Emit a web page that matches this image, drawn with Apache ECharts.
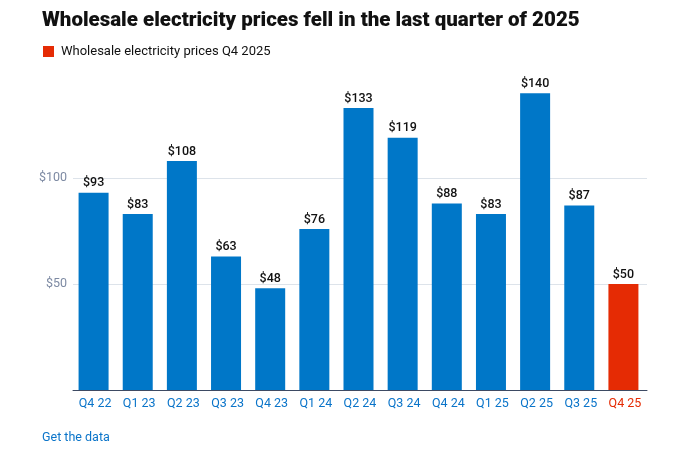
<!DOCTYPE html>
<html>
<head>
<meta charset="utf-8">
<script src="https://cdn.jsdelivr.net/npm/echarts@6/dist/echarts.min.js"></script>
<style>html,body{margin:0;padding:0;background:#fff}#c{width:690px;height:463px}</style>
</head>
<body>
<div id="c"></div>
<script>
const categories = ['Q4 22','Q1 23','Q2 23','Q3 23','Q4 23','Q1 24','Q2 24','Q3 24','Q4 24','Q1 25','Q2 25','Q3 25','Q4 25'];
const prices = [93, 83, 108, 63, 48, 76, 133, 119, 88, 83, 140, 87, 50];
const highlightIndex = 12;
const yTicks = [0, 50, 100, 150];

const BLUE = '#0077c8', RED = '#e52b04';
const chart = echarts.init(document.getElementById('c'));
chart.setOption({
  animation: false,
  textStyle: { fontFamily: 'Roboto' },
  title: {
    text: 'Wholesale electricity prices fell in the last quarter of 2025',
    left: 37, top: 5,
    textStyle: { fontFamily: 'Roboto', fontWeight: 900, fontSize: 20.5, color: '#111' }
  },
  legend: {
    left: 38, top: 40, icon: 'rect', itemWidth: 11, itemHeight: 11, itemGap: 5,
    selectedMode: false,
    textStyle: { fontSize: 13, color: '#111', padding: [0,0,0,2] },
    data: [{ name: 'Wholesale electricity prices Q4 2025', itemStyle: { color: RED } }]
  },
  grid: { left: 73, right: 43, top: 72, bottom: 73 },
  xAxis: {
    type: 'category', data: categories,
    axisTick: { show: false },
    axisLine: { lineStyle: { color: '#3d4a63', width: 1 } },
    axisLabel: {
      margin: 7, fontSize: 12.5,
      color: (v, i) => i === highlightIndex ? RED : '#0a74c9'
    }
  },
  yAxis: {
    type: 'value', min: yTicks[0], max: yTicks[3], interval: 50,
    axisLine: { show: false }, axisTick: { show: false },
    axisLabel: {
      fontSize: 12.5, color: '#7d8aa3', margin: 6,
      formatter: v => (v === 0 || v === 150) ? '' : '$' + v
    },
    splitLine: { lineStyle: { color: ['#ffffff', '#dde3ea', '#dde3ea', 'rgba(0,0,0,0)'] } }
  },
  series: [
    {
      name: 'Wholesale electricity prices',
      type: 'bar', barWidth: 30,
      data: prices.map((v, i) => ({ value: v, itemStyle: { color: i === highlightIndex ? RED : BLUE } })),
      label: { show: true, position: 'top', distance: 3, fontSize: 12.5, fontWeight: 500, color: '#111', formatter: p => '$' + p.value }
    },
    { name: 'Wholesale electricity prices Q4 2025', type: 'bar', data: [], itemStyle: { color: RED } }
  ],
  graphic: [{
    type: 'text', left: 42, top: 431,
    style: { text: 'Get the data', fill: '#0a74c9', fontSize: 12.5, fontFamily: 'Roboto' }
  }]
});
</script>
</body>
</html>
